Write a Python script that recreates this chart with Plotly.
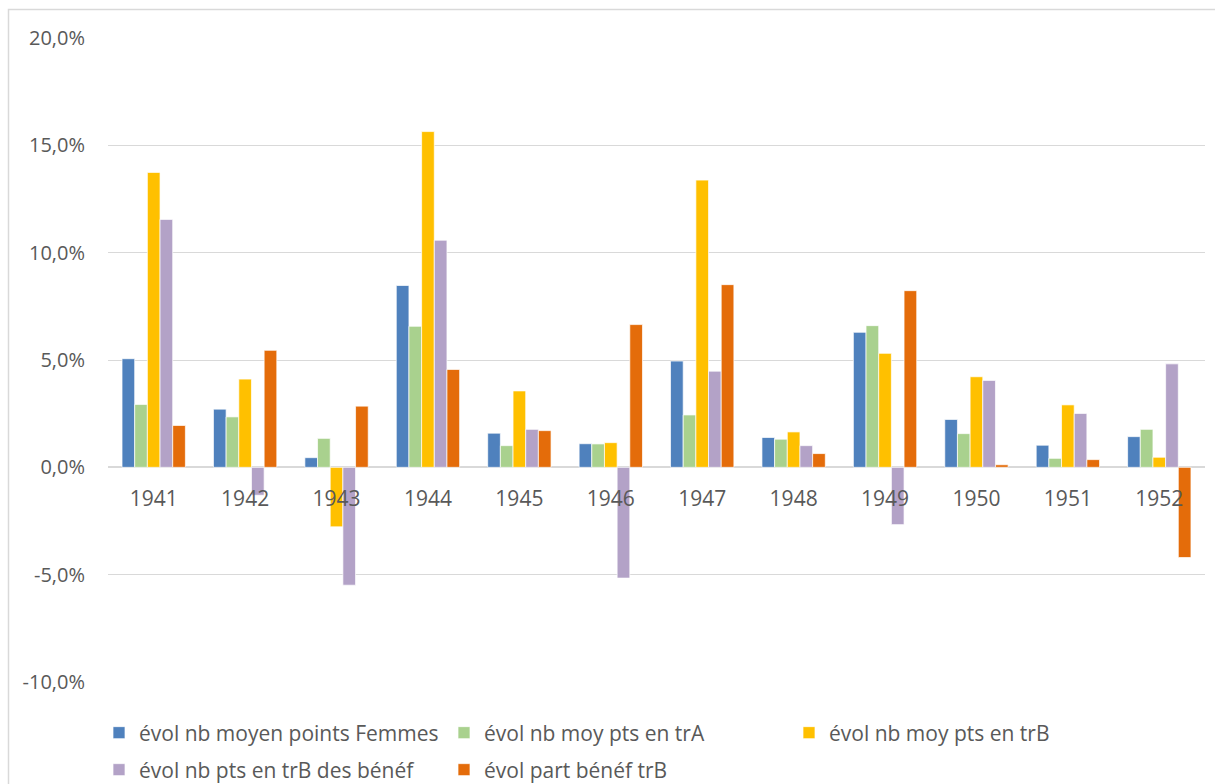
import plotly.graph_objects as go

# Année de référence
annees = ["1941", "1942", "1943", "1944", "1945", "1946",
          "1947", "1948", "1949", "1950", "1951", "1952"]

# Évolutions annuelles (en %)
evol_moy_femmes = [5.06, 2.71, 0.45, 8.47, 1.59, 1.10, 4.95, 1.39, 6.29, 2.23, 1.03, 1.43]
evol_moy_trA = [2.93, 2.35, 1.35, 6.57, 1.01, 1.09, 2.44, 1.31, 6.60, 1.57, 0.42, 1.77]
evol_moy_trB = [13.74, 4.11, -2.77, 15.64, 3.56, 1.15, 13.38, 1.65, 5.31, 4.22, 2.91, 0.47]
evol_pts_trB_benef = [11.55, -1.30, -5.49, 10.58, 1.77, -5.16, 4.48, 1.01, -2.67, 4.05, 2.51, 4.82]
evol_part_benef_trB = [1.95, 5.45, 2.85, 4.56, 1.71, 6.65, 8.51, 0.64, 8.23, 0.12, 0.36, -4.20]

# Graduations de l'axe vertical
y_ticks = [-10, -5, 0, 5, 10, 15, 20]
y_tick_labels = ["-10,0%", "-5,0%", "0,0%", "5,0%", "10,0%", "15,0%", "20,0%"]

series = [
    ("évol nb moyen points Femmes", evol_moy_femmes, "#4F81BD", "legend"),
    ("évol nb moy pts en trA", evol_moy_trA, "#A9D18E", "legend"),
    ("évol nb moy pts en trB", evol_moy_trB, "#FFC000", "legend"),
    ("évol nb pts en trB des bénéf", evol_pts_trB_benef, "#B3A2C7", "legend2"),
    ("évol part bénéf trB", evol_part_benef_trB, "#E46C0A", "legend2"),
]

FONT = "Open Sans"
GREY_TXT = "#595959"
GRID = "#D9D9D9"

fig = go.Figure()
for nom, valeurs, couleur, leg in series:
    fig.add_trace(go.Bar(
        name=nom, x=annees, y=valeurs,
        marker=dict(color=couleur, line=dict(color="rgba(255,255,255,0.7)", width=1)),
        legend=leg,
    ))

W, H = 1215, 784
ML, MR, MT, MB = 108, 10, 38, 102
pw, ph = W - ML - MR, H - MT - MB


def px_x(p):
    return (p - ML) / pw


def px_y(p):
    return (H - MB - p) / ph


legend_common = dict(
    orientation="h", xanchor="left", yanchor="middle",
    font=dict(family=FONT, size=21, color=GREY_TXT),
    entrywidth=300, entrywidthmode="pixels",
    bgcolor="rgba(0,0,0,0)", itemclick=False, itemdoubleclick=False,
    traceorder="normal",
)

fig.update_layout(
    width=W, height=H,
    margin=dict(l=ML, r=MR, t=MT, b=MB, autoexpand=False),
    paper_bgcolor="white", plot_bgcolor="white",
    barmode="group", bargap=0.307, bargroupgap=0,
    font=dict(family=FONT, size=21, color=GREY_TXT),
    showlegend=True,
    legend=dict(x=px_x(99), y=px_y(733), **legend_common),
    legend2=dict(x=px_x(99), y=px_y(770), **legend_common),
    xaxis=dict(
        type="category", anchor="free", position=1 / 3,
        showgrid=False, showline=False, zeroline=False, ticks="",
        tickfont=dict(family=FONT, size=21, color=GREY_TXT),
        ticklabelstandoff=17,
    ),
    yaxis=dict(
        range=[-10, 20], tickvals=y_ticks, ticktext=y_tick_labels,
        showgrid=True, gridcolor=GRID, gridwidth=1,
        zeroline=True, zerolinecolor=GRID, zerolinewidth=1.5,
        showline=False, ticks="",
        tickfont=dict(family=FONT, size=20, color=GREY_TXT),
        ticklabelstandoff=22,
    ),
    shapes=[dict(
        type="rect", xref="paper", yref="paper",
        x0=px_x(8.5), x1=px_x(1230), y0=px_y(800), y1=px_y(9.5),
        line=dict(color=GRID, width=1.5), fillcolor="rgba(0,0,0,0)", layer="below",
    )],
)

fig.write_html("out.html")
